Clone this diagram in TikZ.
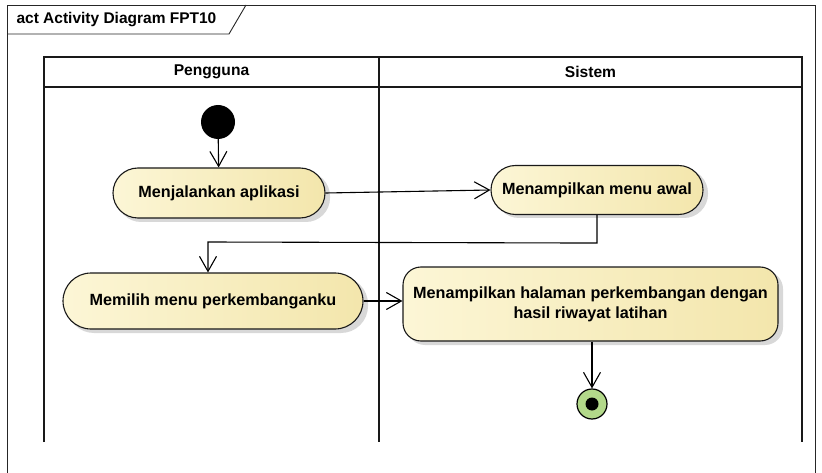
\documentclass[tikz,border=0pt]{standalone}
\usepackage{fontspec}
\setmainfont{Liberation Sans}
\usetikzlibrary{arrows.meta,shapes.misc,calc}
\definecolor{actfillA}{HTML}{FCF6D6}
\definecolor{actfillB}{HTML}{F3E6AC}
\definecolor{endgreen}{HTML}{B3D98A}
\definecolor{shadowgray}{HTML}{D8D8D8}
\tikzset{
  frameline/.style={draw=black!85, line width=0.9pt},
  laneline/.style={draw=black!90, line width=1.4pt},
  actfont/.style={font=\bfseries\fontsize{16.2}{20}\selectfont},
  action/.style={rounded rectangle, draw=black!90, line width=1.1pt,
    left color=actfillA, right color=actfillB, actfont,
    align=center, inner sep=0pt},
  actionbox/.style={rectangle, rounded corners=18pt, draw=black!90, line width=1.1pt,
    left color=actfillA, right color=actfillB, actfont,
    align=center, inner sep=0pt},
  flow/.style={draw=black, line width=1.1pt,
    -{Straight Barb[length=15pt,width=17pt,line width=1.1pt]}},
  lanetitle/.style={font=\bfseries\fontsize{15.6}{18}\selectfont},
}
\begin{document}
\begin{tikzpicture}[x=1pt,y=-1pt]
\useasboundingbox (0,0) rectangle (822,473);
\fill[white] (0,0) rectangle (822,473);

% diagram frame with name tab
\draw[frameline] (7,473) -- (7,5) -- (815,5) -- (815,473);
\draw[frameline] (7,34) -- (229,34) -- (246,5);
\node[anchor=west, font=\bfseries\fontsize{15.5}{18}\selectfont] (title) at (13,20) {act Activity Diagram FPT10};

% swimlanes
\draw[laneline] (44,442) -- (44,57) -- (802,57) -- (802,442);
\draw[laneline] (44,87) -- (802,87);
\draw[laneline] (379,57) -- (379,442);
\node[lanetitle] (lane1) at (211.5,72) {Pengguna};
\node[lanetitle] (lane2) at (590.5,72) {Sistem};

% shadows
\fill[shadowgray, rounded corners=24pt] (117,172) rectangle (330,222);
\fill[shadowgray, rounded corners=24pt] (495,169) rectangle (708,218);
\fill[shadowgray, rounded corners=27pt] (67,277) rectangle (368,333);
\fill[shadowgray, rounded corners=18pt] (407,271) rectangle (783,345);

% nodes
\node[circle, fill=black, minimum size=34pt, inner sep=0pt] (start) at (218,122) {};
\node[action, minimum width=212pt, minimum height=50pt] (a1) at (219,193) {Menjalankan aplikasi};
\node[action, minimum width=212pt, minimum height=49pt] (a2) at (597,190) {Menampilkan menu awal};
\node[action, minimum width=300pt, minimum height=56pt] (a3) at (213,301) {Memilih menu perkembanganku};
\node[actionbox, minimum width=375pt, minimum height=74pt] (a4) at (590.5,304) {Menampilkan halaman perkembangan dengan\\hasil riwayat latihan};
\node[circle, draw=black, line width=1.2pt, fill=endgreen, minimum size=30pt, inner sep=0pt] (end) at (592,404) {};
\node[circle, fill=black, minimum size=13pt, inner sep=0pt] (endin) at (end) {};

% control flows
\draw[flow] (start) -- (a1);
\draw[flow] (a1.east) -- (a2.west);
\coordinate (bend1) at ($(a2.south)+(0,28)$);
\coordinate (bend2) at (208,242);
\draw[flow] (a2.south) -- (bend1) -- (bend2) -- (a3.north -| bend2);
\draw[flow] (a3.east) -- (a3.east -| a4.west);
\draw[flow] (a4.south -| end) -- (end.north);
\end{tikzpicture}
\end{document}
